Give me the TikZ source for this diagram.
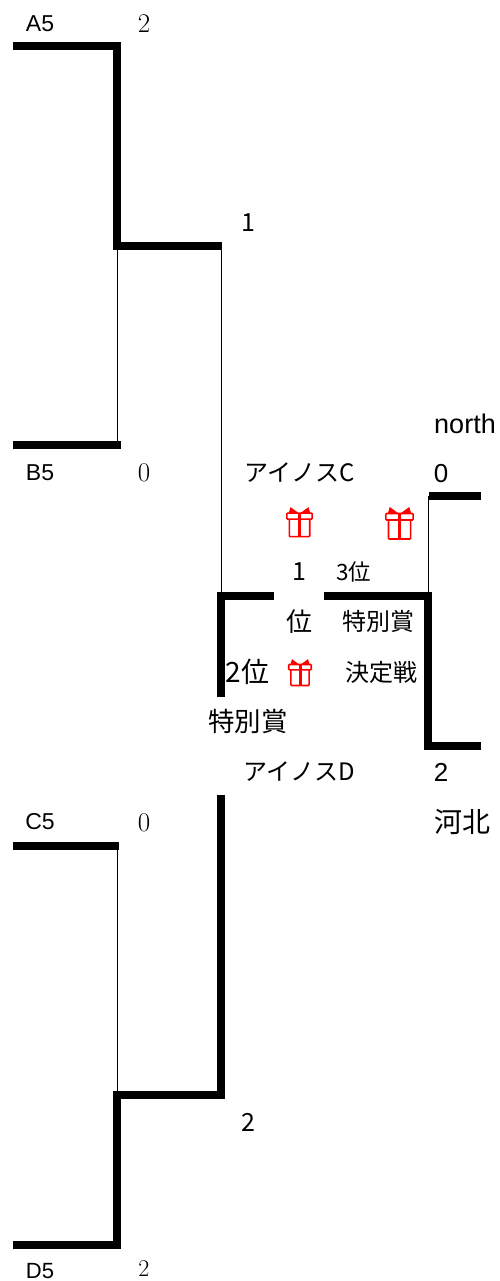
\documentclass[tikz,border=0pt]{standalone}
\usepackage{fontspec}
\setmainfont{Noto Sans CJK JP}
\newfontfamily\lat{Liberation Sans}
\newfontfamily\serifnum{Latin Modern Roman}
\tikzset{
 x=1pt,y=-1pt,
 heavy/.style={line width=8pt,line join=miter,line cap=butt},
 fine/.style={line width=1pt},
 lbl/.style={inner sep=0pt,anchor=center,font=\fontsize{#1}{#1}\selectfont},
 lbl/.default=20,
 gift/.pic={
  \draw[red,line width=1.6pt,rounded corners=.8pt] (-8.5,-2) -- (-8.5,12.6) -- (8.5,12.6) -- (8.5,-2);
  \draw[red,line width=1.6pt,rounded corners=.8pt,fill=white] (-10.5,-7) rectangle (10.5,-2);
  \draw[red,line width=3pt] (0,-7) -- (0,13);
  \fill[red] (0,-6.5) -- (-7.5,-12) -- (-9,-7) -- cycle;
  \fill[red] (0,-6.5) -- (7.5,-12) -- (9,-7) -- cycle;
 }
}
\begin{document}
\begin{tikzpicture}
\useasboundingbox (0,0) rectangle (500,1281);
\coordinate (a1) at (13,46); \coordinate (a2) at (117,46); \coordinate (a3) at (117,246); \coordinate (a4) at (222,246);
\coordinate (b1) at (13,445); \coordinate (b2) at (121,445); \coordinate (b3) at (117.5,445); \coordinate (b4) at (117.5,246);
\coordinate (c1) at (13,846); \coordinate (c2) at (119,846); \coordinate (c3) at (117.5,846); \coordinate (c4) at (117.5,1095);
\coordinate (d1) at (13,1245); \coordinate (d2) at (117,1245); \coordinate (d3) at (117,1095); \coordinate (d4) at (221,1095); \coordinate (d5) at (221,795);
\coordinate (e1) at (221.5,246); \coordinate (e2) at (221.5,596);
\coordinate (f1) at (274,596); \coordinate (f2) at (221,596); \coordinate (f3) at (221,697);
\coordinate (g1) at (324,596); \coordinate (g2) at (428,596); \coordinate (g3) at (428,746); \coordinate (g4) at (481,746);
\coordinate (h1) at (481,496); \coordinate (h2) at (428.5,496); \coordinate (h3) at (428.5,596);
\draw[fine] (b3) -- (b4); \draw[fine] (c3) -- (c4); \draw[fine] (e1) -- (e2); \draw[fine] (h2) -- (h3);
\draw[heavy] (a1) -- (a2) -- (a3) -- (a4);
\draw[heavy] (b1) -- (b2);
\draw[heavy] (c1) -- (c2);
\draw[heavy] (d1) -- (d2) -- (d3) -- (d4) -- (d5);
\draw[heavy] (f1) -- (f2) -- (f3);
\draw[heavy] (g1) -- (g2) -- (g3) -- (g4);
\draw[heavy] (h1) -- (h2);
\node[lbl=23] (A5) at (40,24) {\lat A5};
\node[lbl=23] (B5) at (40,473) {\lat B5};
\node[lbl=23] (C5) at (40,822) {\lat C5};
\node[lbl=22] (D5) at (40,1271) {\lat D5};
\node[lbl=27] (sA) at (144,24) {\serifnum 2};
\node[lbl=27] (sB) at (144,473) {\serifnum 0};
\node[lbl=27] (sC) at (144,823) {\serifnum 0};
\node[lbl=24] (sD) at (144,1268.5) {\serifnum 2};
\node[lbl=25] (s1) at (248,223) {1};
\node[lbl=25] (s2) at (248,1122) {2};
\node[lbl=27] (north) at (465,424) {\lat north};
\node[lbl=26] (s0) at (441,474) {\lat 0};
\node[lbl=26] (s22) at (441,772) {\lat 2};
\node[lbl=28] (hebei) at (462,822) {河北};
\node[lbl=24] (ic) at (300,473) {アイノスC};
\node[lbl=24] (id) at (299,772) {アイノスD};
\pic[scale=1.2] at (299.5,521.5) {gift};
\pic[scale=1.3] at (399.5,522.6) {gift};
\pic[scale=1.07] at (300,672) {gift};
\node[lbl=25] (one) at (299,572) {1};
\node[lbl=22.5] (third) at (353.5,572) {3位};
\node[lbl=26] (wei) at (299.5,622) {位};
\node[lbl=24] (t1) at (378,621) {特別賞};
\node[lbl=28] (second) at (247.5,672) {2位};
\node[lbl=24] (ket) at (381.5,672) {決定戦};
\node[lbl=26.5] (t2) at (248,721) {特別賞};
\end{tikzpicture}
\end{document}
